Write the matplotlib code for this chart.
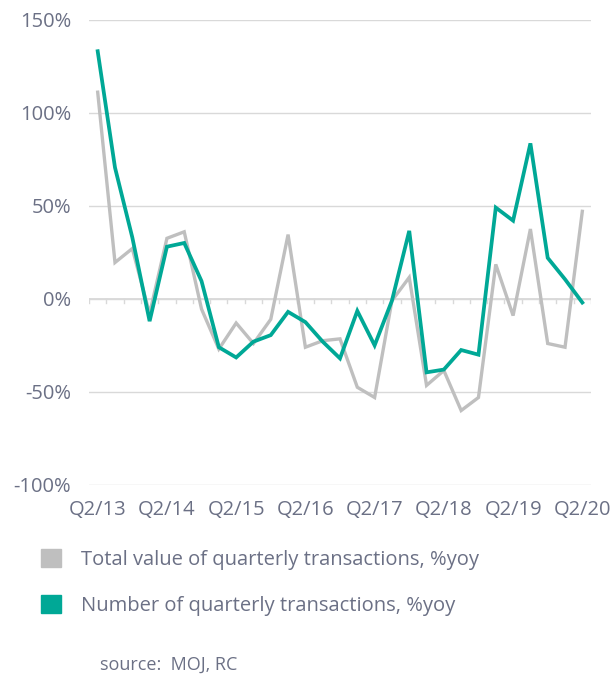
import numpy as np
import matplotlib.pyplot as plt
from matplotlib.patches import Patch

plt.rcParams['font.family'] = ['Open Sans', 'DejaVu Sans']

# quarters Q2/13 .. Q2/20
quarters = []
for yr in range(13, 21):
    for q in range(1, 5):
        if (yr == 13 and q < 2) or (yr == 20 and q > 2):
            continue
        quarters.append("Q%d/%d" % (q, yr))

total_value = [111, 19.5, 27, -8, 32.5, 36, -5.5, -27, -13, -24, -11, 34.5, -26,
               -22.5, -21.5, -47.5, -53, -1, 11.5, -46.5, -38.5, -60, -53,
               18.5, -9, 37.5, -24, -26, 47]
num_trans = [133, 70.5, 33, -12, 28, 30, 9.5, -26, -31.5, -23, -19.5, -7, -12.5,
             -23, -32, -6.5, -25, -1, 36.5, -39.5, -38, -27.5, -30,
             49, 42, 83.5, 22, 10.5, -2]

labels = ["Total value of quarterly transactions, %yoy",
          "Number of quarterly transactions, %yoy"]

txt = '#6b7085'
grey = '#bfbfbf'
green = '#00a896'

fig = plt.figure(figsize=(6.14, 6.75), dpi=100)
ax = fig.add_axes([0.145, 0.2815, 0.8175, 0.6895])

x = np.arange(len(quarters))
ax.plot(x, total_value, color=grey, lw=2.4, solid_joinstyle='miter')
ax.plot(x, num_trans, color=green, lw=2.7, solid_joinstyle='miter')

ax.set_xlim(-0.5, len(quarters) - 0.5)
ax.set_ylim(-100, 150)
ax.set_yticks(np.arange(-100, 151, 50))
ax.set_yticklabels(["%d%%" % v for v in range(-100, 151, 50)])
ax.yaxis.grid(True, color='#d9d9d9', lw=1)
ax.set_axisbelow(True)
ax.axhline(0, color='#d9d9d9', lw=1.3, zorder=1)

# category boundary ticks on zero line
for b in np.arange(-0.5, len(quarters), 1.0):
    ax.plot([b, b], [0, -2.2], color='#d9d9d9', lw=1, zorder=1)

ax.set_xticks(x[::4])
ax.set_xticklabels(quarters[::4])
ax.tick_params(axis='both', length=0, colors=txt, labelsize=14.5)
ax.tick_params(axis='x', pad=11)
ax.tick_params(axis='y', pad=13)
for s in ax.spines.values():
    s.set_visible(False)

handles = [Patch(color=grey), Patch(color=green)]
fig.legend(handles, labels, loc='upper left', bbox_to_anchor=(0.066, 0.187),
           frameon=False, fontsize=14.5, labelcolor=txt, handlelength=1.0,
           handleheight=1.0, handletextpad=1.0, labelspacing=1.25,
           borderpad=0, borderaxespad=0)

fig.text(0.163, 0.008, "source:  MOJ, RC", color=txt, fontsize=13)

fig.savefig("out.png", dpi=100, facecolor='white')
